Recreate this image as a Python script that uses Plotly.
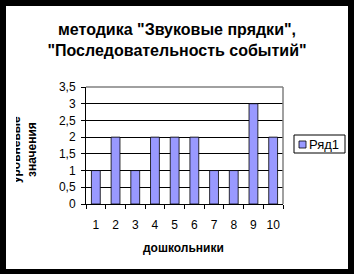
import plotly.graph_objects as go

categories = ["1", "2", "3", "4", "5", "6", "7", "8", "9", "10"]
values = [1, 2, 1, 2, 2, 2, 1, 1, 3, 2]
y_ticks = [0, 0.5, 1, 1.5, 2, 2.5, 3, 3.5]
series_name = "Ряд1"
title_text = "методика \"Звуковые прядки\",<br>\"Последовательность событий\""
x_title = "дошкольники"
y_title = "уровневые<br>значения"

W, H = 354, 274
L, R, T, B = 86, 283, 87, 204
pw, ph = R - L, B - T

def px(x):
    return (x - L) / pw

def py(y):
    return (B - y) / ph

FONT = "Liberation Sans, Arial, sans-serif"
BAR = "#9999FF"

fig = go.Figure()
fig.add_trace(go.Bar(
    x=categories, y=values, name=series_name,
    marker=dict(color=BAR, line=dict(color="#000000", width=0.8)),
    width=0.45, showlegend=False,
))

fig.update_layout(
    width=W, height=H,
    margin=dict(l=L, r=W - R, t=T, b=H - B, pad=0),
    paper_bgcolor="#000000",
    plot_bgcolor="#C0C0C0",
    separators=", ",
    font=dict(family=FONT, size=12, color="#000000"),
    title=dict(text=title_text, x=0.5, xref="container", xanchor="center",
               y=1 - 35 / H, yanchor="middle",
               font=dict(family=FONT, size=16, color="#000000", weight="bold")),
    showlegend=False,
)

fig.update_xaxes(
    type="category", tickson="boundaries", ticks="outside", ticklen=4,
    tickcolor="#000000", showline=True, linecolor="#000000", linewidth=1,
    showgrid=False, tickangle=0,
    tickfont=dict(family=FONT, size=12, color="#000000"),
    ticklabelstandoff=10,
)
fig.update_yaxes(
    range=[0, 3.5], tickvals=y_ticks, ticks="outside", ticklen=4,
    tickcolor="#000000", showline=True, linecolor="#000000", linewidth=1,
    showgrid=True, gridcolor="#000000", gridwidth=1, zeroline=False,
    tickfont=dict(family=FONT, size=12, color="#000000"),
    ticklabelstandoff=3,
)

# white chart area inside black frame
fig.add_shape(type="rect", xref="paper", yref="paper", layer="below",
              x0=px(6), x1=px(348), y0=py(269), y1=py(6),
              fillcolor="#FFFFFF", line=dict(width=0))
# gray plot-area border (top and right)
fig.add_shape(type="line", xref="paper", yref="paper", layer="above",
              x0=0, x1=1, y0=1, y1=1, line=dict(color="#808080", width=1.5))
fig.add_shape(type="line", xref="paper", yref="paper", layer="above",
              x0=1, x1=1, y0=0, y1=1, line=dict(color="#808080", width=1.5))

# legend box (drawn manually to match the compact reference legend)
fig.add_shape(type="rect", xref="paper", yref="paper", layer="above",
              x0=px(294), x1=px(345), y0=py(153), y1=py(135),
              fillcolor="#FFFFFF", line=dict(color="#000000", width=1))
fig.add_shape(type="rect", xref="paper", yref="paper", layer="above",
              x0=px(299), x1=px(306), y0=py(148), y1=py(141),
              fillcolor=BAR, line=dict(color="#000000", width=0.8))
fig.add_annotation(text=series_name, xref="paper", yref="paper",
                   x=px(307), y=py(144), xanchor="left", yanchor="middle",
                   showarrow=False,
                   font=dict(family=FONT, size=13, color="#000000"))

fig.add_annotation(text=x_title, xref="paper", yref="paper",
                   x=px(183), y=py(248), xanchor="center", yanchor="middle",
                   showarrow=False,
                   font=dict(family=FONT, size=12, color="#000000", weight="bold"))
fig.add_annotation(text=y_title, xref="paper", yref="paper",
                   x=px(24), y=py(150), xanchor="center", yanchor="middle",
                   textangle=-90, showarrow=False,
                   font=dict(family=FONT, size=12, color="#000000", weight="bold"))
# chart-area clipping of the axis title's first line, as in the reference
fig.add_annotation(text=" ", xref="paper", yref="paper",
                   x=px(6), y=py(150), xanchor="left", yanchor="middle",
                   width=10, height=130, bgcolor="#FFFFFF", borderpad=0,
                   borderwidth=0, showarrow=False)

fig.write_html("out.html")
